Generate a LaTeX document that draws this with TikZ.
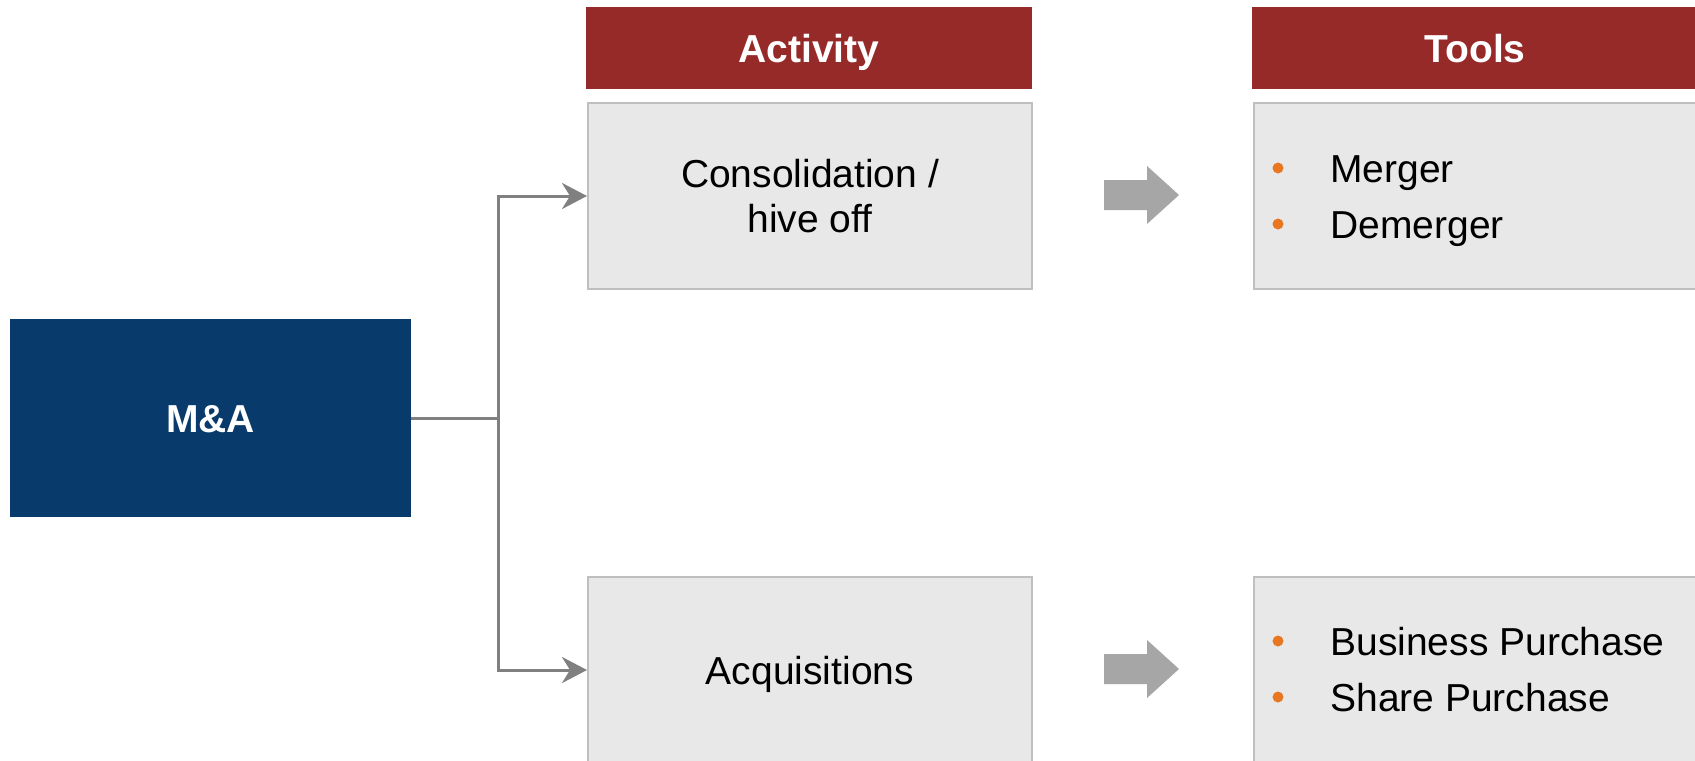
\documentclass[tikz,border=0pt]{standalone}
\usepackage{fontspec}
\setmainfont{Liberation Sans}
\usetikzlibrary{arrows.meta}

\definecolor{navy}{HTML}{083A6B}
\definecolor{maroon}{HTML}{952A29}
\definecolor{panel}{HTML}{E8E8E8}
\definecolor{panelline}{HTML}{BFBFBF}
\definecolor{linkgray}{HTML}{808080}
\definecolor{fatgray}{HTML}{A6A6A6}
\definecolor{bulletorange}{HTML}{E87722}

\tikzset{
  txt/.style={font=\fontsize{19.5}{22.5}\selectfont},
  capline/.style={text height=14pt, text depth=0pt},
  mainbox/.style={fill=navy, draw=none, minimum width=200.5pt, minimum height=99pt,
    inner sep=0pt, text=white, capline, font=\fontsize{19.5}{22.5}\selectfont\bfseries},
  headbox/.style={fill=maroon, draw=none, minimum width=223pt, minimum height=40.75pt,
    inner sep=0pt, text=white, capline, font=\fontsize{19.5}{22.5}\selectfont\bfseries},
  panelbox/.style={fill=panel, draw=panelline, line width=1pt, minimum width=222pt,
    minimum height=93pt, inner sep=0pt, align=center, txt},
  itemtxt/.style={anchor=base west, inner sep=0pt, txt},
  dot/.style={circle, fill=bulletorange, draw=none, minimum size=5.5pt, inner sep=0pt},
  conn/.style={draw=linkgray, line width=1.5pt},
  connarrow/.style={conn, -{Stealth[length=12.5pt, width=13pt, inset=4pt]}},
  fatarrow/.pic={
    \fill[fatgray] (-37.5,-15) -- (5.5,-15) -- (5.5,-29) -- (37.5,0)
      -- (5.5,29) -- (5.5,15) -- (-37.5,15) -- cycle;
  }
}

\begin{document}
\begin{tikzpicture}[x=0.5pt, y=-0.5pt]
  \clip (0,0) rectangle (1695,760);
  \fill[white] (0,0) rectangle (1695,760);

  % source box
  \node[mainbox] (ma) at (210.5,418) {M\&A};

  % column headers
  \node[headbox] (acthead) at (809,48) {Activity};
  \node[headbox] (toolhead) at (1475,48) {Tools};

  % activity panels
  \node[panelbox] (act1) at (810,196) {Consolidation /\\hive off};
  \node[panelbox, capline] (act2) at (810,670) {Acquisitions};

  % tool panels
  \node[panelbox] (tool1) at (1476,196) {};
  \node[panelbox] (tool2) at (1476,670) {};

  % bullet lists
  \node[dot] (d1) at (1278,168) {};
  \node[itemtxt] (m1) at (1330,182) {Merger};
  \node[dot] (d2) at (1278,224) {};
  \node[itemtxt] (m2) at (1330,238) {Demerger};

  \node[dot] (d3) at (1278,641) {};
  \node[itemtxt] (m3) at (1330,655) {Business Purchase};
  \node[dot] (d4) at (1278,697) {};
  \node[itemtxt] (m4) at (1330,711) {Share Purchase};

  % block arrows between activity and tools
  \pic at (1141.5,195) {fatarrow};
  \pic at (1141.5,669) {fatarrow};

  % branching connectors
  \coordinate (bus) at (498,418);
  \draw[conn] (ma.east) -- (bus);
  \draw[connarrow] (bus) |- (act1.west);
  \draw[connarrow] (bus) |- (act2.west);
\end{tikzpicture}
\end{document}
